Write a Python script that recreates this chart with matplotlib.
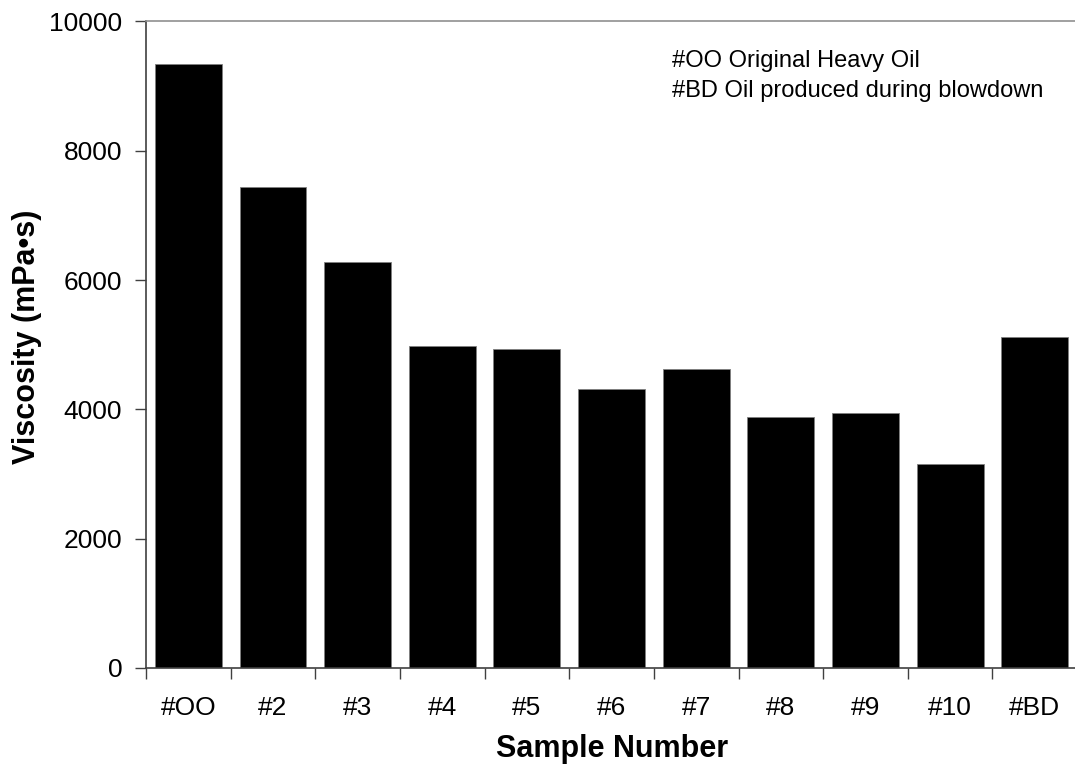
import numpy as np
import matplotlib
matplotlib.use("Agg")
import matplotlib.pyplot as plt
from matplotlib.ticker import FixedLocator

plt.rcParams['font.family'] = ['Liberation Sans', 'DejaVu Sans']

# data
samples = ['#OO', '#2', '#3', '#4', '#5', '#6', '#7', '#8', '#9', '#10', '#BD']
viscosity = [9350, 7445, 6283, 4985, 4928, 4314, 4623, 3886, 3943, 3150, 5114]
y_ticks = [0, 2000, 4000, 6000, 8000, 10000]
notes = ['#OO Original Heavy Oil', '#BD Oil produced during blowdown']

fig = plt.figure(figsize=(10.75, 7.65), dpi=100)
ax = fig.add_axes([0.1358, 0.1268, 0.8662, 0.8451])

x = np.arange(len(samples))
ax.bar(x, viscosity, width=0.79, color='black', edgecolor='#808080', linewidth=0.6)

ax.set_xlim(-0.5, len(samples) - 0.5)
ax.set_ylim(0, 10000)
ax.set_yticks(y_ticks)

# labels at centres, tick marks at category boundaries
ax.set_xticks(x)
ax.set_xticklabels(samples)
ax.xaxis.set_minor_locator(FixedLocator(np.arange(-0.5, len(samples), 1.0)))
ax.tick_params(axis='x', which='major', length=0, pad=20, labelsize=19)
ax.tick_params(axis='x', which='minor', length=8, width=1, color='#404040', direction='out')
ax.tick_params(axis='y', length=8, width=1, color='#404040', direction='out', labelsize=19, pad=9)

for side in ['left', 'bottom']:
    ax.spines[side].set_color('#404040')
    ax.spines[side].set_linewidth(1.2)
ax.spines['top'].set_color('#909090')
ax.spines['top'].set_linewidth(1.2)
ax.spines['right'].set_visible(False)

ax.set_xlabel('Sample Number', fontsize=22, fontweight='bold', labelpad=10)
ax.set_ylabel('Viscosity (mPa\u2022s)', fontsize=22, fontweight='bold')
ax.yaxis.set_label_coords(-0.1117, 0.513)

ax.text(0.565, 0.9296, notes[0], transform=ax.transAxes, fontsize=17, va='baseline', ha='left')
ax.text(0.565, 0.8832, notes[1], transform=ax.transAxes, fontsize=17, va='baseline', ha='left')

fig.savefig('out.png', dpi=100)
